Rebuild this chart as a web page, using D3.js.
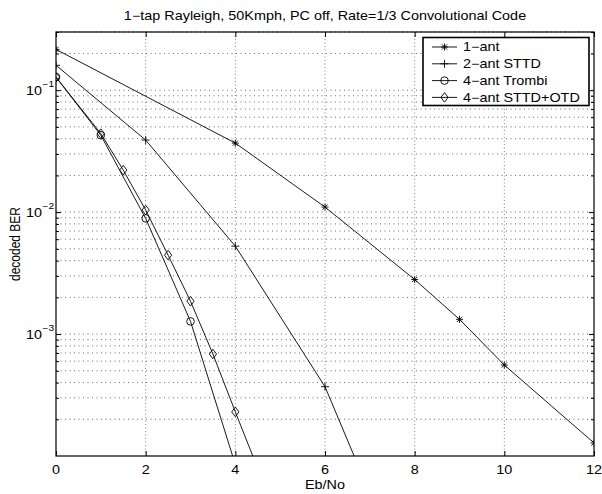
<!DOCTYPE html>
<html><head><meta charset="utf-8">
<script src="https://cdn.jsdelivr.net/npm/d3@7"></script>
<style>body{margin:0;background:#fff}svg{display:block}text{font-family:"Liberation Sans",Arial,Helvetica,sans-serif}</style>
</head><body>
<svg id="c" width="602" height="494"></svg>
<script>
const titleText = "1\u2212tap Rayleigh, 50Kmph, PC off, Rate=1/3 Convolutional Code";
const xLabel = "Eb/No";
const yLabel = "decoded BER";
const xTicks = [0,2,4,6,8,10,12];
const yMajor = [1e-1,1e-2,1e-3];
const yMajorExp = ["\u22121","\u22122","\u22123"];

const ant1X = [0,4,6,8,9,10,12];
const ant1Y = [0.216,0.0368,0.011,0.0028,0.00132,0.000557,0.000128];
const sttdX = [0,2,4,6,8];
const sttdY = [0.16,0.039,0.00526,0.00037,6.6e-6];
const trombiX = [0,1,2,3,4];
const trombiY = [0.128,0.0427,0.00888,0.00127,8.5e-5];
const otdX = [0,1,1.5,2,2.5,3,3.5,4,4.5];
const otdY = [0.128,0.044,0.0221,0.0104,0.00444,0.00186,0.000686,0.00023,7.9e-5];

const seriesNames = ["1\u2212ant","2\u2212ant STTD","4\u2212ant Trombi","4\u2212ant STTD+OTD"];
const markers = ["star","plus","circle","diamond"];

const SX = 1.2; // horizontal stretch of the reference's text
const L=56,R=594,T=32,B=456;
const svg = d3.select("#c");
const x = d3.scaleLinear().domain([0,12]).range([L,R]);
const y = d3.scaleLog().domain([1e-4,0.3]).range([B,T]);

function txt(parent, tx, ty, s, size, anchor){
  return parent.append("text").attr("transform",`translate(${tx},${ty}) scale(${SX},1)`)
    .attr("font-size",size).attr("text-anchor",anchor||"start").attr("fill","#000").text(s);
}

const yMinor = [];
for (let e=-4;e<=-1;e++) for (let m=2;m<=9;m++){const v=m*Math.pow(10,e); if(v<=0.3+1e-9) yMinor.push(v);}

// grid
const g = svg.append("g");
g.selectAll(".hg").data(yMajor.concat(yMinor)).enter().append("line")
 .attr("x1",L).attr("x2",R).attr("y1",d=>y(d)).attr("y2",d=>y(d))
 .attr("stroke","#444").attr("stroke-width",0.8).attr("stroke-dasharray","1,3.5");
g.selectAll(".vg").data(xTicks.slice(1,-1)).enter().append("line")
 .attr("y1",T).attr("y2",B).attr("x1",d=>x(d)).attr("x2",d=>x(d))
 .attr("stroke","#666").attr("stroke-width",0.8).attr("stroke-dasharray","1,2.5");

// axes
const axB = d3.axisBottom(x).tickValues(xTicks).tickSize(-5).tickFormat("");
const gx = svg.append("g").attr("transform",`translate(0,${B})`).call(axB);
gx.select(".domain").remove();
gx.selectAll("line").attr("stroke","#000");
xTicks.forEach(v=>txt(svg, x(v), 473.5, d3.format("d")(v), 12, "middle"));
const axT = d3.axisTop(x).tickValues(xTicks).tickSize(-5).tickFormat("");
const gt = svg.append("g").attr("transform",`translate(0,${T})`).call(axT);
gt.select(".domain").remove();
const axL = d3.axisLeft(y).tickValues(yMajor).tickSize(-5).tickFormat("");
const gl = svg.append("g").attr("transform",`translate(${L},0)`).call(axL);
gl.select(".domain").remove();
const axLm = d3.axisLeft(y).tickValues(yMinor).tickSize(-3).tickFormat("");
const glm = svg.append("g").attr("transform",`translate(${L},0)`).call(axLm);
glm.select(".domain").remove();
const axR = d3.axisRight(y).tickValues(yMajor).tickSize(-5).tickFormat("");
const gr = svg.append("g").attr("transform",`translate(${R},0)`).call(axR);
gr.select(".domain").remove();
const axRm = d3.axisRight(y).tickValues(yMinor).tickSize(-3).tickFormat("");
const grm = svg.append("g").attr("transform",`translate(${R},0)`).call(axRm);
grm.select(".domain").remove();

// y labels with superscript
yMajor.forEach((v,i)=>{
  txt(svg, 42, y(v)+5, "10", 12, "end");
  txt(svg, 42.5, y(v)-3, yMajorExp[i], 8.5, "start");
});

// frame
svg.append("rect").attr("x",L).attr("y",T).attr("width",R-L).attr("height",B-T)
 .attr("fill","none").attr("stroke","#000").attr("stroke-width",1.2);

// title & labels
txt(svg, (L+R)/2, 20, titleText, 12, "middle");
txt(svg, (L+R)/2, 489, xLabel, 12, "middle");
svg.append("text").attr("transform",`translate(20,${(T+B)/2}) rotate(-90) scale(1,${SX})`)
 .attr("text-anchor","middle").attr("font-size",12).text(yLabel);

// clip
svg.append("clipPath").attr("id","clp").append("rect").attr("x",L).attr("y",T).attr("width",R-L).attr("height",B-T);
const plot = svg.append("g").attr("clip-path","url(#clp)");

function drawMarker(sel, type, cx, cy){
  const s = sel.append("g").attr("transform",`translate(${cx},${cy})`)
    .attr("stroke","#000").attr("stroke-width",0.9).attr("fill","none");
  if(type==="star"){
    s.append("path").attr("d","M-3.5,0H3.5M0,-3.5V3.5M-2.6,-2.6L2.6,2.6M-2.6,2.6L2.6,-2.6");
  } else if(type==="plus"){
    s.append("path").attr("d","M-4,0H4M0,-4V4");
  } else if(type==="circle"){
    s.append("circle").attr("r",3.8);
  } else {
    s.append("path").attr("d","M0,-4.8L3.6,0L0,4.8L-3.6,0Z");
  }
}

const allSeries = [[ant1X,ant1Y],[sttdX,sttdY],[trombiX,trombiY],[otdX,otdY]];
const line = d3.line().x(d=>x(d[0])).y(d=>y(d[1]));
allSeries.forEach(([xs,ys],i)=>{
  const pts = xs.map((v,j)=>[v,ys[j]]);
  plot.append("path").attr("d",line(pts)).attr("fill","none").attr("stroke","#000").attr("stroke-width",0.9);
  pts.forEach(p=>drawMarker(plot,markers[i],x(p[0]),y(p[1])));
});

// legend
const lg = svg.append("g");
lg.append("rect").attr("x",423).attr("y",37.5).attr("width",166).attr("height",68)
 .attr("fill","#fff").attr("stroke","#000").attr("stroke-width",1.6);
seriesNames.forEach((n,i)=>{
  const yy = 47 + i*16.8;
  lg.append("line").attr("x1",432).attr("x2",457).attr("y1",yy).attr("y2",yy).attr("stroke","#000").attr("stroke-width",0.9);
  drawMarker(lg,markers[i],444.5,yy);
  txt(lg, 463, yy+4.3, n, 12, "start");
});
</script>
</body></html>
